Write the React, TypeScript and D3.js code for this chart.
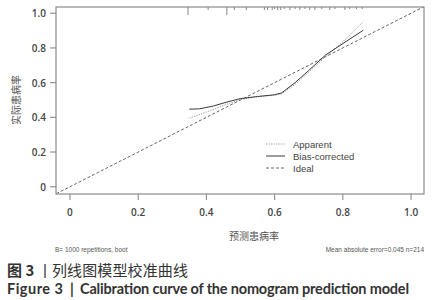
import React from "react";
import * as d3 from "d3";

const xTicks = [0, 0.2, 0.4, 0.6, 0.8, 1.0];
const yTicks = [0, 0.2, 0.4, 0.6, 0.8, 1.0];
const xTickLabels = ["0", "0.2", "0.4", "0.6", "0.8", "1.0"];
const yTickLabels = ["0", "0.2", "0.4", "0.6", "0.8", "1.0"];

const apparentX = [0.35, 0.4, 0.45, 0.5, 0.55, 0.6, 0.62, 0.66, 0.7, 0.75, 0.8, 0.86];
const apparentY = [0.395, 0.43, 0.468, 0.503, 0.518, 0.528, 0.535, 0.59, 0.66, 0.75, 0.835, 0.952];
const biasX = [0.35, 0.38, 0.42, 0.46, 0.5, 0.55, 0.6, 0.62, 0.66, 0.7, 0.75, 0.8, 0.86];
const biasY = [0.447, 0.449, 0.465, 0.488, 0.508, 0.52, 0.53, 0.54, 0.6, 0.67, 0.76, 0.825, 0.902];
const idealX = [-0.04, 1.04];

const rugX = [0.346, 0.405, 0.46, 0.482, 0.517, 0.57, 0.579, 0.593, 0.6, 0.609, 0.618, 0.628, 0.645, 0.66, 0.674, 0.689, 0.703, 0.718, 0.738, 0.762, 0.777, 0.806, 0.82, 0.84, 0.857];
const rugLen = [8, 3, 8, 3, 3, 3, 3, 3, 2, 3, 3, 2, 3, 2, 3, 2, 3, 3, 2, 3, 2, 3, 2, 2, 2];

const legendLabels = ["Apparent", "Bias-corrected", "Ideal"];

export default function App() {
  const W = 437, H = 300;
  const L = 56, R = 424, T = 7, B = 194;
  const x = d3.scaleLinear().domain([-0.041, 1.038]).range([L, R]);
  const y = d3.scaleLinear().domain([-0.042, 1.036]).range([B, T]);
  const line = d3.line<[number, number]>().x((d) => x(d[0])).y((d) => y(d[1]));
  const app = apparentX.map((v, i) => [v, apparentY[i]] as [number, number]);
  const bias = biasX.map((v, i) => [v, biasY[i]] as [number, number]);
  const ideal = idealX.map((v) => [v, v] as [number, number]);
  const tickFont = "'Open Sans', 'Liberation Sans', sans-serif";
  const legendStyles = [
    { stroke: "#9a9a9a", dash: "1.2,1.3", w: 1 },
    { stroke: "#3a3a3a", dash: "", w: 1 },
    { stroke: "#555", dash: "3,2", w: 0.9 },
  ];
  return (
    <svg width={W} height={H} style={{ position: "absolute", left: 0, top: 0, background: "#fff" }}>
      <rect x={0} y={0} width={W} height={H} fill="#fff" />
      <clipPath id="pc">
        <rect x={L} y={T} width={R - L} height={B - T} />
      </clipPath>
      <g clipPath="url(#pc)">
        <path d={line(ideal) || ""} fill="none" stroke="#555" strokeWidth={0.9} strokeDasharray="3,2" />
        <path d={line(app) || ""} fill="none" stroke="#9a9a9a" strokeWidth={1} strokeDasharray="1.2,1.3" />
        <path d={line(bias) || ""} fill="none" stroke="#3a3a3a" strokeWidth={1} />
      </g>
      {rugX.map((v, i) => (
        <line key={"r" + i} x1={x(v)} x2={x(v)} y1={T} y2={T + rugLen[i]} stroke="#777" strokeWidth={0.9} />
      ))}
      <rect x={L} y={T} width={R - L} height={B - T} fill="none" stroke="#8a8a8a" strokeWidth={1.2} />
      {xTicks.map((v, i) => (
        <g key={"x" + i}>
          <line x1={x(v)} x2={x(v)} y1={B} y2={B + 6} stroke="#8a8a8a" strokeWidth={1.1} />
          <text x={x(v)} y={212} textAnchor="middle" dominantBaseline="central" fontFamily={tickFont} fontWeight={600} fontSize={10} fill="#444">
            {xTickLabels[i]}
          </text>
        </g>
      ))}
      {yTicks.map((v, i) => (
        <g key={"y" + i}>
          <line x1={L - 6} x2={L} y1={y(v)} y2={y(v)} stroke="#8a8a8a" strokeWidth={1.1} />
          <text x={46} y={y(v)} textAnchor="end" dominantBaseline="central" fontFamily={tickFont} fontWeight={600} fontSize={10} fill="#444">
            {yTickLabels[i]}
          </text>
        </g>
      ))}
      <text x={15} y={100} transform="rotate(-90 15 100)" textAnchor="middle" dominantBaseline="central" fontFamily="'Noto Sans CJK SC', sans-serif" fontSize={10} fill="#555">
        实际患病率
      </text>
      <text x={254} y={235} textAnchor="middle" dominantBaseline="central" fontFamily="'Noto Sans CJK SC', sans-serif" fontSize={10} fill="#555">
        预测患病率
      </text>
      {legendLabels.map((lab, i) => (
        <g key={"l" + i}>
          <line x1={266} x2={285} y1={144 + i * 12} y2={144 + i * 12} stroke={legendStyles[i].stroke} strokeWidth={legendStyles[i].w} strokeDasharray={legendStyles[i].dash} />
          <text x={293} y={144 + i * 12} dominantBaseline="central" fontFamily="'Liberation Sans', Arial, sans-serif" fontSize={9.5} fill="#444">
            {lab}
          </text>
        </g>
      ))}
      <text x={55} y={249} dominantBaseline="central" fontFamily="'Liberation Sans', Arial, sans-serif" fontSize={6.5} fill="#555">
        B= 1000 repetitions, boot
      </text>
      <text x={424} y={249} textAnchor="end" dominantBaseline="central" fontFamily="'Liberation Sans', Arial, sans-serif" fontSize={6.5} fill="#555">
        Mean absolute error=0.045 n=214
      </text>
      <text x={7} y={269} dominantBaseline="central" fontFamily="'Noto Sans CJK SC', sans-serif" fontSize={15} fill="#333">
        <tspan fontWeight={700}>图 3</tspan>
      </text>
      <text x={45} y={269} textAnchor="middle" dominantBaseline="central" fontFamily="'Liberation Sans', Arial, sans-serif" fontSize={15} fill="#333">
        |
      </text>
      <text x={52} y={269} dominantBaseline="central" fontFamily="'Noto Sans CJK SC', sans-serif" fontSize={15} fill="#333" textLength={136} lengthAdjust="spacing">
        列线图模型校准曲线
      </text>
      <text x={7} y={288} dominantBaseline="central" fontFamily="Lato, 'Open Sans', sans-serif" fontWeight={700} fontSize={14.5} fill="#333" textLength={56} lengthAdjust="spacing">
        Figure 3
      </text>
      <text x={70} y={288} dominantBaseline="central" fontFamily="Lato, 'Open Sans', sans-serif" fontWeight={700} fontSize={14.5} fill="#333">
        |
      </text>
      <text x={80} y={288} dominantBaseline="central" fontFamily="Lato, 'Open Sans', sans-serif" fontWeight={700} fontSize={14.5} fill="#333" textLength={329} lengthAdjust="spacing">
        Calibration curve of the nomogram prediction model
      </text>
    </svg>
  );
}
